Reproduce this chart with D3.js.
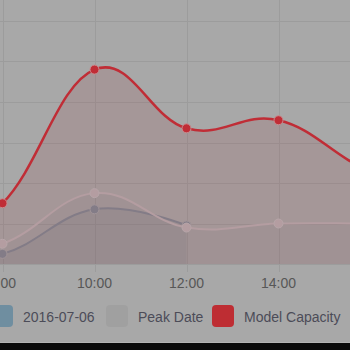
<!DOCTYPE html>
<html>
<head>
<meta charset="utf-8">
<script src="https://cdn.jsdelivr.net/npm/d3@7"></script>
<style>
  html, body { margin: 0; padding: 0; background: #a8a8a8; overflow: hidden; }
  svg { display: block; }
</style>
</head>
<body>
<svg id="chart" width="350" height="350"></svg>
<script>
// hours on the x axis (every 2h), only 8:00..14:00 are inside the view
const hours = [6, 8, 10, 12, 14, 16, 18];
const tickHours = [8, 10, 12, 14];

// series values
const modelCapacity = [5, 30, 96, 67, 71, 46, 38];
const peakDate = [4, 10, 35, 18, 20, 20, 20];
const day20160706 = [2, 5, 27, 19]; // ends at 12:00

const legendNames = ["2016-07-06", "Peak Date", "Model Capacity"];
const legendColors = ["#6f8ea0", "#a0a0a0", "#be2d33"];

const width = 350
const height = 350

const svg = d3.select("#chart")

svg.append("rect").attr("width", width).attr("height", height).attr("fill", "#a8a8a8")

// scales
const x = d3.scaleLinear().domain([8, 14]).range([2.5, 278.5])
const y = d3.scaleLinear().domain([0, 120]).range([264, 21])

// grid
const g = svg.append("g")
g.selectAll("line.h")
  .data(d3.range(0, 160, 20))
  .enter()
  .append("line")
  .attr("class", "h")
  .attr("x1", 0).attr("x2", width)
  .attr("y1", d => Math.round(y(d)) + 0.5).attr("y2", d => Math.round(y(d)) + 0.5)
  .attr("stroke", "#9c9c9c").attr("stroke-width", 1)

g.selectAll("line.v")
  .data(tickHours)
  .enter()
  .append("line")
  .attr("class", "v")
  .attr("x1", d => Math.round(x(d)) + 0.5).attr("x2", d => Math.round(x(d)) + 0.5)
  .attr("y1", 0).attr("y2", y(0) + 8)
  .attr("stroke", "#9c9c9c").attr("stroke-width", 1)

const curve = d3.curveCardinal.tension(-0.2)

const area = d3.area()
  .x((d, i) => x(hours[i]))
  .y0(y(0))
  .y1(d => y(d))
  .curve(curve)

const line = d3.line()
  .x((d, i) => x(hours[i]))
  .y(d => y(d))
  .curve(curve)

// datasets, drawn back to front
const series = [
  { values: modelCapacity, fill: "rgba(150,60,70,0.16)", stroke: "#c02d36", point: "#c02d36", pointStroke: "#c98c8f", width: 2.5 },
  { values: peakDate, fill: "rgba(120,110,115,0.10)", stroke: "#b49da1", point: "#b49da1", pointStroke: "#b7a6a9", width: 2 },
  { values: day20160706, fill: "rgba(100,95,110,0.12)", stroke: "#837c87", point: "#837c87", pointStroke: "#a29599", width: 2 }
]

series.forEach(s => {
  svg.append("path")
    .datum(s.values)
    .attr("d", area)
    .attr("fill", s.fill)
})

series.slice().reverse().forEach(s => {
  svg.append("path")
    .datum(s.values)
    .attr("d", line)
    .attr("fill", "none")
    .attr("stroke", s.stroke)
    .attr("stroke-width", s.width)

  svg.selectAll(null)
    .data(s.values)
    .enter()
    .append("circle")
    .attr("cx", (d, i) => x(hours[i]))
    .attr("cy", d => y(d))
    .attr("r", 4.5)
    .attr("fill", s.point)
    .attr("stroke", s.pointStroke)
    .attr("stroke-width", 1)
})

// x tick labels
svg.selectAll("text.tick")
  .data(tickHours)
  .enter()
  .append("text")
  .attr("class", "tick")
  .attr("x", d => x(d))
  .attr("y", 288)
  .attr("text-anchor", "middle")
  .attr("font-family", "Liberation Sans, Arial, sans-serif")
  .attr("font-size", 14)
  .attr("fill", "#575757")
  .text(d => d + ":00")

// legend
const legendX = [-9, 106, 212]
const legend = svg.selectAll("g.legend")
  .data(legendNames)
  .enter()
  .append("g")
  .attr("class", "legend")
  .attr("transform", (d, i) => "translate(" + legendX[i] + ",305)")

legend.append("rect")
  .attr("width", 22).attr("height", 22)
  .attr("rx", 4)
  .attr("fill", (d, i) => legendColors[i])

legend.append("text")
  .attr("x", 32)
  .attr("y", 16.5)
  .attr("font-family", "Liberation Sans, Arial, sans-serif")
  .attr("font-size", 14)
  .attr("fill", "#4c4c58")
  .text(d => d)

// bottom band
svg.append("rect").attr("x", 0).attr("y", 342).attr("width", width).attr("height", 1).attr("fill", "#b4b4b4")
svg.append("rect").attr("x", 0).attr("y", 343).attr("width", width).attr("height", 7).attr("fill", "#0b0b0b")
</script>
</body>
</html>
